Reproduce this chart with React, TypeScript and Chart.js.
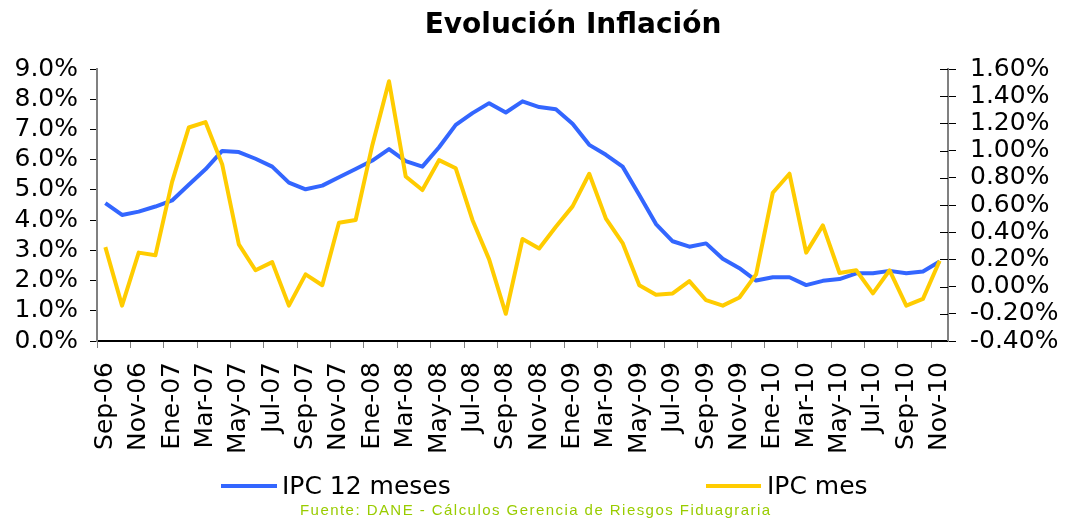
import React, { useEffect, useRef } from "react";
import { Chart, registerables } from "chart.js";

Chart.register(...registerables);

const months: string[] = [
  "Sep-06", "Oct-06", "Nov-06", "Dic-06",
  "Ene-07", "Feb-07", "Mar-07", "Abr-07", "May-07", "Jun-07", "Jul-07", "Ago-07", "Sep-07", "Oct-07", "Nov-07", "Dic-07",
  "Ene-08", "Feb-08", "Mar-08", "Abr-08", "May-08", "Jun-08", "Jul-08", "Ago-08", "Sep-08", "Oct-08", "Nov-08", "Dic-08",
  "Ene-09", "Feb-09", "Mar-09", "Abr-09", "May-09", "Jun-09", "Jul-09", "Ago-09", "Sep-09", "Oct-09", "Nov-09", "Dic-09",
  "Ene-10", "Feb-10", "Mar-10", "Abr-10", "May-10", "Jun-10", "Jul-10", "Ago-10", "Sep-10", "Oct-10", "Nov-10",
];

const ipc12Meses: number[] = [
  4.56, 4.17, 4.28, 4.45,
  4.65, 5.17, 5.68, 6.29, 6.25, 6.03, 5.77, 5.24, 5.02, 5.14, 5.42, 5.69,
  5.97, 6.35, 5.95, 5.77, 6.41, 7.15, 7.54, 7.87, 7.56, 7.93, 7.74, 7.67,
  7.19, 6.49, 6.16, 5.77, 4.83, 3.87, 3.30, 3.12, 3.23, 2.72, 2.41, 2.00,
  2.11, 2.11, 1.85, 1.99, 2.05, 2.24, 2.24, 2.32, 2.24, 2.30, 2.63,
];

const ipcMes: number[] = [
  0.29, -0.14, 0.25, 0.23,
  0.77, 1.17, 1.21, 0.90, 0.31, 0.12, 0.18, -0.14, 0.09, 0.01, 0.47, 0.49,
  1.04, 1.51, 0.81, 0.71, 0.93, 0.87, 0.49, 0.20, -0.20, 0.35, 0.28, 0.44,
  0.59, 0.83, 0.50, 0.32, 0.01, -0.06, -0.05, 0.04, -0.10, -0.14, -0.08, 0.09,
  0.69, 0.83, 0.25, 0.45, 0.10, 0.12, -0.05, 0.12, -0.14, -0.09, 0.19,
];

const titleText = "Evolución Inflación";
const seriesNames: string[] = ["IPC 12 meses", "IPC mes"];
const sourceText = "Fuente: DANE - Cálculos Gerencia de Riesgos Fiduagraria";

const BLUE = "#3366FF";
const YELLOW = "#FFCC00";
const FONT = "'DejaVu Sans', Verdana, sans-serif";

const W = 1070;
const H = 520;

const textPlugin = {
  id: "textPlugin",
  afterDraw(chart: any) {
    const ctx = chart.ctx as CanvasRenderingContext2D;
    ctx.save();
    // inward tick marks on right axis
    const y1 = chart.scales.y1;
    ctx.strokeStyle = "#000";
    ctx.lineWidth = 1;
    y1.ticks.forEach((_t: any, i: number) => {
      const py = Math.round(y1.getPixelForTick(i)) + 0.5;
      ctx.beginPath();
      ctx.moveTo(y1.left - 8, py);
      ctx.lineTo(y1.left, py);
      ctx.stroke();
    });

    // title
    ctx.fillStyle = "#000";
    ctx.font = `bold 28px ${FONT}`;
    ctx.textAlign = "center";
    ctx.textBaseline = "alphabetic";
    ctx.fillText(titleText, 573, 33);

    // legend
    ctx.lineWidth = 4;
    ctx.lineCap = "butt";
    ctx.strokeStyle = BLUE;
    ctx.beginPath();
    ctx.moveTo(221, 486);
    ctx.lineTo(277, 486);
    ctx.stroke();
    ctx.strokeStyle = YELLOW;
    ctx.beginPath();
    ctx.moveTo(706, 486);
    ctx.lineTo(761, 486);
    ctx.stroke();
    ctx.font = `25px ${FONT}`;
    ctx.textAlign = "left";
    ctx.fillStyle = "#000";
    ctx.fillText(seriesNames[0], 282, 494);
    ctx.fillText(seriesNames[1], 767, 494);

    // source
    ctx.font = `15px 'Liberation Sans', Arial, sans-serif`;
    ctx.fillStyle = "#99CC00";
    (ctx as any).letterSpacing = "1.45px";
    ctx.fillText(sourceText, 300, 515);
    ctx.restore();
  },
};

export default function App() {
  const ref = useRef<HTMLCanvasElement | null>(null);

  useEffect(() => {
    if (!ref.current) return;
    const chart = new Chart(ref.current, {
      type: "line",
      data: {
        labels: months,
        datasets: [
          {
            label: seriesNames[0],
            data: ipc12Meses,
            borderColor: BLUE,
            backgroundColor: BLUE,
            borderWidth: 4,
            pointRadius: 0,
            tension: 0,
            yAxisID: "y",
            order: 2,
            borderJoinStyle: "round",
          },
          {
            label: seriesNames[1],
            data: ipcMes,
            borderColor: YELLOW,
            backgroundColor: YELLOW,
            borderWidth: 4,
            pointRadius: 0,
            tension: 0,
            yAxisID: "y1",
            order: 1,
            borderJoinStyle: "round",
          },
        ],
      },
      options: {
        responsive: false,
        animation: false,
        events: [],
        layout: { padding: { top: 69, left: 0, right: 0, bottom: 0 } },
        plugins: {
          legend: { display: false },
          title: { display: false },
          tooltip: { enabled: false },
        },
        scales: {
          x: {
            type: "category",
            offset: true,
            afterFit: (s: any) => {
              s.height = H - 341;
            },
            grid: {
              offset: true,
              drawOnChartArea: false,
              drawTicks: true,
              tickLength: 7,
              color: (c: any) => (c.index % 2 === 0 ? "#808080" : "rgba(0,0,0,0)"),
              lineWidth: 1,
            },
            border: { color: "#000", width: 2 },
            ticks: {
              autoSkip: false,
              maxRotation: 90,
              minRotation: 90,
              padding: 14,
              color: "#000",
              font: { family: FONT, size: 25 },
              callback: (_v: any, i: number) => (i % 2 === 0 ? months[i] : ""),
            },
          },
          y: {
            position: "left",
            min: 0,
            max: 9,
            afterFit: (s: any) => {
              s.width = 97;
            },
            grid: {
              drawOnChartArea: false,
              drawTicks: true,
              tickLength: 7,
              tickColor: "#000",
            },
            border: { color: "#808080", width: 2 },
            ticks: {
              autoSkip: false,
              stepSize: 1,
              padding: 12,
              color: "#000",
              font: { family: FONT, size: 25 },
              callback: (v: any) => Number(v).toFixed(1) + "%",
            },
          },
          y1: {
            position: "right",
            min: -0.4,
            max: 1.6,
            afterFit: (s: any) => {
              s.width = W - 948;
            },
            grid: {
              drawOnChartArea: false,
              drawTicks: true,
              tickLength: 8,
              tickColor: "#000",
            },
            border: { color: "#808080", width: 2 },
            ticks: {
              autoSkip: false,
              stepSize: 0.2,
              padding: 14,
              color: "#000",
              font: { family: FONT, size: 25 },
              callback: (v: any) => {
                const n = Math.abs(Number(v)) < 1e-9 ? 0 : Number(v);
                return n.toFixed(2) + "%";
              },
            },
          },
        },
      },
      plugins: [textPlugin],
    } as any);
    return () => chart.destroy();
  }, []);

  return (
    <div style={{ position: "fixed", left: 0, top: 0, width: W, height: H, background: "#fff" }}>
      <canvas ref={ref} width={W} height={H} style={{ width: W, height: H, display: "block" }} />
    </div>
  );
}
